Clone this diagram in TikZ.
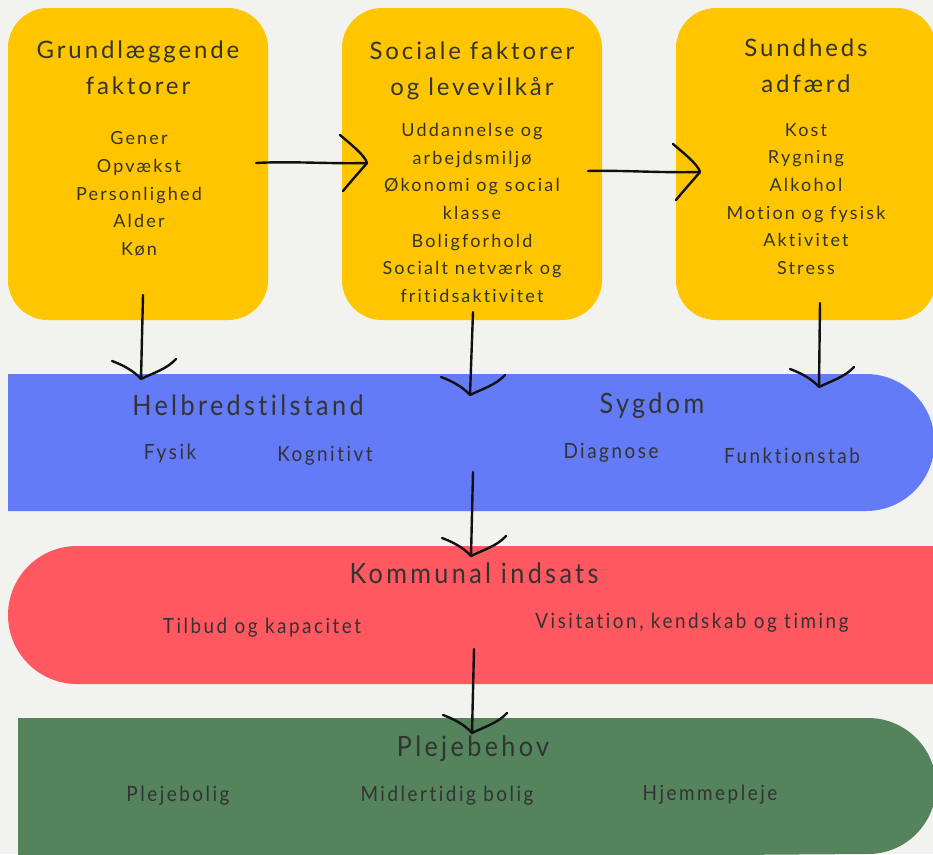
\documentclass[tikz,border=0pt]{standalone}
\usepackage{fontspec}
\newfontfamily\boxfont[LetterSpace=12,Ligatures={NoCommon,NoContextual}]{Lato}
\newfontfamily\bandfont[FakeStretch=0.9,LetterSpace=12,Ligatures={NoCommon,NoContextual}]{Lato}
\definecolor{bg}{HTML}{F2F2EE}
\definecolor{ylw}{HTML}{FFC600}
\definecolor{blu}{HTML}{637BF6}
\definecolor{rd}{HTML}{FF5860}
\definecolor{grn}{HTML}{54835C}
\definecolor{txt}{HTML}{333333}
\definecolor{ink}{HTML}{111111}
\tikzset{
  ybox/.style={fill=ylw, draw=none, rounded corners=40pt, inner sep=0pt,
    minimum width=260pt, minimum height=312pt},
  boxtitle/.style={text=txt, align=center, inner sep=0pt,
    font={\boxfont\fontsize{24}{36}\selectfont}},
  boxitems/.style={text=txt, align=center, inner sep=0pt,
    font={\boxfont\fontsize{18}{27.6}\selectfont}},
  bandtitle/.style={text=txt, inner sep=0pt,
    font={\bandfont\fontsize{28}{30}\selectfont}},
  banditem/.style={text=txt, inner sep=0pt,
    font={\bandfont\fontsize{21}{24}\selectfont}},
  arrowline/.style={draw=ink, line width=2.4pt, line cap=round, line join=round},
  downhead/.pic={\draw[arrowline] (-29,-18) .. controls (-18,-14) and (-7,-8) .. (0,0)
     .. controls (12,-6) and (26,-10) .. (35,-20);},
  righthead/.pic={\draw[arrowline] (-27,-28) .. controls (-19,-21) and (-2,-8) .. (0,0)
     .. controls (-5,6) and (-15,17) .. (-24,28);}
}
\begin{document}
\begin{tikzpicture}[x=1pt,y=-1pt]
\useasboundingbox (0,0) rectangle (933,854);
\clip (0,0) rectangle (933,854);
\fill[bg] (0,0) rectangle (933,854);

% yellow boxes
\node[ybox] (b1) at (138,164) {};
\node[ybox] (b2) at (472,164) {};
\node[ybox] (b3) at (806,164) {};

\node[boxtitle] (t1) at (138,68) {Grundlæggende\\faktorer};
\node[boxitems] (i1) at (139,194) {Gener\\Opvækst\\Personlighed\\Alder\\Køn};
\node[boxtitle] (t2) at (472,71) {Sociale faktorer\\og levevilkår};
\node[boxitems] (i2) at (472,213) {Uddannelse og\\arbejdsmiljø\\Økonomi og social\\klasse\\Boligforhold\\Socialt netværk og\\fritidsaktivitet};
\node[boxtitle] (t3) at (806,66) {Sundheds\\adfærd};
\node[boxitems] (i3) at (806,199) {Kost\\Rygning\\Alkohol\\Motion og fysisk\\Aktivitet\\Stress};

% bands
\fill[blu] (8,374) -- (866,374) arc[start angle=-90,end angle=90,radius=68.5] -- (8,511) -- cycle;
\fill[rd] (940,546) -- (77,546) arc[start angle=-90,end angle=-270,radius=69] -- (940,684) -- cycle;
\fill[grn] (18,718) -- (868,718) arc[start angle=-90,end angle=90,radius=68] -- (18,860) -- cycle;

\node[bandtitle] (h1) at (248,405) {Helbredstilstand};
\node[bandtitle] (h2) at (652,406) {Sygdom};
\node[banditem] (h3) at (170,454) {Fysik};
\node[banditem] (h4) at (325,456) {Kognitivt};
\node[banditem] (h5) at (611,453) {Diagnose};
\node[banditem] (h6) at (792,456) {Funktionstab};

\node[bandtitle] (k1) at (474,573) {Kommunal indsats};
\node[banditem] (k2) at (262,628) {Tilbud og kapacitet};
\node[banditem] (k3) at (692,623) {Visitation, kendskab og timing};

\node[bandtitle] (p1) at (473,749) {Plejebehov};
\node[banditem] (p2) at (178,796) {Plejebolig};
\node[banditem] (p3) at (447,796) {Midlertidig bolig};
\node[banditem] (p4) at (710,795) {Hjemmepleje};

% arrow end points
\coordinate (a1s) at (256,163); \coordinate (a1e) at (367,163);
\coordinate (a2s) at (588,171); \coordinate (a2e) at (700,172);
\coordinate (a3s) at (143,295); \coordinate (a3e) at (141,379);
\coordinate (a4s) at (473,312); \coordinate (a4e) at (470,395);
\coordinate (a5s) at (820,303); \coordinate (a5e) at (819,387);
\coordinate (a6s) at (473,472); \coordinate (a6e) at (471,556);
\coordinate (a7s) at (474,649); \coordinate (a7e) at (472,733);

\draw[arrowline] (a1s) .. controls (290,161) and (330,164) .. (a1e);
\pic at (a1e) {righthead};
\draw[arrowline] (a2s) .. controls (620,170) and (660,173) .. (a2e);
\pic at (a2e) {righthead};
\foreach \s/\e in {a3s/a3e,a4s/a4e,a5s/a5e,a6s/a6e,a7s/a7e}{
  \draw[arrowline] (\s) -- (\e);
  \pic at (\e) {downhead};
}
\end{tikzpicture}
\end{document}
